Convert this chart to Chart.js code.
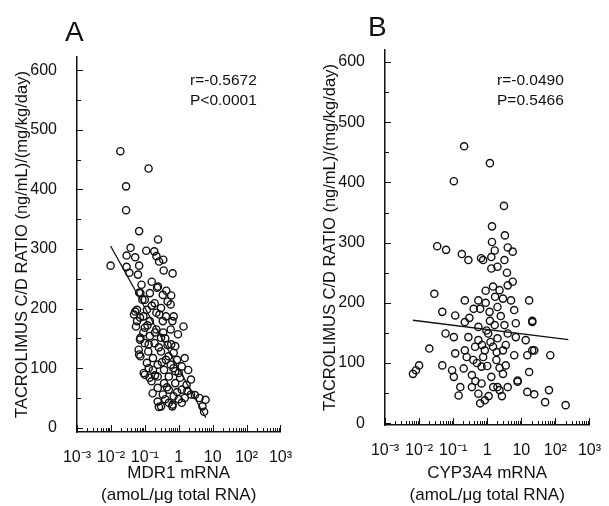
<!DOCTYPE html>
<html>
<head>
<meta charset="utf-8">
<script src="https://cdn.jsdelivr.net/npm/chart.js@4.4.1/dist/chart.umd.min.js"></script>
<style>
    html, body { margin: 0; padding: 0; background: #fff; }
    body { width: 609px; height: 506px; position: relative; overflow: hidden;
           font-family: "Liberation Sans", Arial, sans-serif; color: #111; }
    canvas { position: absolute; top: 0; }
    #chartA { left: 0; }
    #chartB { left: 300px; }
    .panel { position: absolute; font-size: 28px; line-height: 28px; }
    .stat { position: absolute; font-size: 15.5px; line-height: 19.5px; }
</style>
</head>
<body>
<canvas id="chartA" width="300" height="506"></canvas>
<canvas id="chartB" width="309" height="506"></canvas>
<div class="panel" style="left:65px; top:18px;">A</div>
<div class="panel" style="left:368px; top:13px;">B</div>
<div class="stat" style="left:190px; top:70px;">r=-0.5672<br>P&lt;0.0001</div>
<div class="stat" style="left:497px; top:70px;">r=-0.0490<br>P=0.5466</div>
<script>
(function () {
    "use strict";

    // ============================
    // Data
    // ============================
    const xTickValues = [0.001, 0.01, 0.1, 1, 10, 100, 1000];
    const xTickLabels = ["10⁻³", "10⁻²", "10⁻¹", "1", "10", "10²", "10³"];
    const yTickValues = [0, 100, 200, 300, 400, 500, 600];

    const yTitle = "TACROLIMUS C/D RATIO (ng/mL)/(mg/kg/day)";
    const xTitleA = ["MDR1 mRNA", "(amoL/μg total RNA)"];
    const xTitleB = ["CYP3A4 mRNA", "(amoL/μg total RNA)"];

    // Panel A: MDR1 mRNA vs C/D ratio
    const mdr1 = [
        0.019, 0.129, 0.028, 0.028, 0.068, 0.245, 0.038, 0.11, 0.19, 0.029,
        0.052, 0.22, 0.35, 0.0098, 0.029, 0.068, 0.263, 0.36, 0.66, 0.063,
        0.245, 0.035, 0.068, 0.23, 0.141, 0.074, 0.34, 0.10, 0.47, 0.195,
        0.059, 0.115, 0.30, 0.58, 0.048, 0.091, 0.219, 0.42, 0.71, 0.059,
        0.141, 0.34, 0.65, 1.38, 0.10, 0.219, 0.58, 0.074, 0.141, 0.30,
        0.10, 0.195, 0.47, 0.79, 0.066, 0.126, 0.30, 0.71, 1.5, 0.074,
        0.174, 0.42, 0.89, 0.115, 0.24, 0.58, 1.23, 0.174, 0.37, 0.79,
        1.9, 0.10, 0.24, 0.51, 1.1, 2.3, 0.158, 0.37, 0.79, 1.7,
        0.24, 0.51, 1.23, 2.3, 0.34, 0.71, 1.5, 4.1, 0.24, 0.51,
        1.23, 6.2, 5.0, 0.30, 0.65, 0.052, 0.072, 5.6, 0.66, 0.26,
        0.072, 0.068, 0.093, 0.138, 0.085, 0.16, 0.27, 0.12, 0.2, 0.4,
        0.09, 0.6, 0.26, 0.5, 0.13, 0.32, 0.7, 0.2, 1.0, 0.45,
        0.9, 0.17, 1.8, 3.0, 0.4, 1.0, 0.13, 0.35, 0.055, 0.16,
        0.43, 0.08, 0.6, 0.95
    ];
    const ratioA = [
        464, 435, 405, 365, 330, 316, 302, 297, 296, 289,
        286, 288, 282, 272, 270, 272, 279, 264, 259, 257,
        237, 260, 227, 235, 226, 226, 223, 215, 212, 209,
        198, 198, 201, 207, 190, 187, 193, 187, 187, 179,
        179, 179, 179, 170, 168, 165, 165, 151, 154, 151,
        142, 142, 139, 137, 131, 128, 128, 126, 117, 120,
        117, 114, 114, 109, 106, 106, 103, 97, 97, 95,
        97, 89, 86, 86, 84, 81, 78, 75, 75, 72,
        67, 64, 64, 56, 56, 53, 50, 50, 44, 42,
        42, 47, 36, 36, 36, 195, 185, 27, 39, 35,
        148, 123, 92, 84, 215, 205, 190, 172, 160, 150,
        160, 140, 135, 120, 100, 110, 100, 88, 92, 68,
        60, 58, 62, 55, 48, 48, 140, 160, 170, 245,
        230, 240, 222, 157
    ];
    const fitAx = [0.0098, 6.3];
    const fitAy = [305, 17];

    // Panel B: CYP3A4 mRNA vs C/D ratio
    const cyp3a4 = [
        0.21, 1.2, 0.105, 3.1, 1.38, 1.38, 3.3, 0.034, 0.062, 0.18,
        4.0, 0.66, 0.28, 0.76, 1.32, 1.66, 2.0, 5.6, 3.2, 1.32,
        0.028, 0.22, 0.55, 0.62, 1.17, 1.48, 2.3, 4.0, 5.6, 2.9,
        5.0, 2.0, 6.2, 17, 0.048, 0.115, 0.22, 0.55, 0.95, 1.66,
        3.2, 6.9, 21, 0.06, 0.105, 0.28, 0.55, 1.07, 2.0, 4.0,
        6.9, 13.5, 0.02, 0.115, 0.22, 0.44, 0.85, 1.48, 2.9, 6.2,
        15, 21, 71, 0.0081, 0.0066, 0.010, 0.048, 0.093, 0.204, 0.39,
        0.76, 1.86, 3.5, 0.105, 0.355, 0.68, 1.32, 2.9, 7.8, 17,
        0.162, 0.355, 0.68, 2.0, 4.0, 7.8, 0.145, 0.55, 0.85, 0.62,
        2.3, 15, 24, 65, 50, 200, 21, 24, 0.4, 0.9,
        1.7, 0.3, 1.2, 2.5, 0.7, 1.25, 3.5, 0.5, 1.0, 2.3,
        0.25, 1.5, 0.45, 1.1, 2.7, 0.9, 3.8, 1.9
    ];
    const ratioB = [
        460, 432, 402, 361, 327, 301, 312, 294, 288, 281,
        292, 274, 271, 271, 276, 287, 260, 285, 271, 257,
        215, 204, 204, 190, 185, 227, 221, 229, 235, 207,
        204, 193, 188, 204, 185, 179, 168, 160, 154, 163,
        163, 166, 168, 149, 143, 143, 138, 149, 141, 149,
        143, 138, 124, 116, 121, 127, 121, 127, 121, 113,
        113, 121, 113, 88, 82, 96, 96, 88, 91, 105,
        110, 105, 96, 77, 80, 94, 77, 82, 71, 85,
        60, 60, 66, 60, 60, 69, 46, 49, 38, 33,
        55, 52, 48, 55, 35, 30, 170, 121, 190, 200,
        210, 175, 170, 178, 130, 135, 130, 100, 95, 92,
        110, 60, 70, 45, 45, 220, 250, 118
    ];
    const fitBx = [0.0066, 240];
    const fitBy = [171, 139];

    // Helpers
    const toPoints = (xs, ys) => xs.map((x, i) => ({ x, y: ys[i] }));

    // Tick marks drawn inward from the axes, like the original figure
    const inwardTicks = {
        id: "inwardTicks",
        afterDraw(chart) {
            const ctx = chart.ctx;
            const { left, bottom } = chart.chartArea;
            const xs = chart.scales.x;
            const ys = chart.scales.y;
            ctx.save();
            ctx.strokeStyle = "#111";
            ctx.lineWidth = 1;
            ctx.beginPath();
            xs.ticks.forEach((t) => {
                const px = Math.round(xs.getPixelForValue(t.value)) + 0.5;
                const len = t.label ? 7 : 4;
                ctx.moveTo(px, bottom);
                ctx.lineTo(px, bottom - len);
            });
            ys.ticks.forEach((t) => {
                const py = Math.round(ys.getPixelForValue(t.value)) + 0.5;
                const len = t.label ? 6 : 4;
                ctx.moveTo(left, py);
                ctx.lineTo(left + len, py);
            });
            ctx.stroke();
            ctx.restore();
        },
    };

    // ============================
    // Panel builder
    // ============================
    function makePanel(canvasId, pts, fit, xTitle, box) {
        const canvas = document.getElementById(canvasId);
        return new Chart(canvas, {
            type: "scatter",
            data: {
                datasets: [
                    {
                        data: pts,
                        pointRadius: 3.6,
                        pointBorderWidth: 1.4,
                        borderColor: "#111",
                        backgroundColor: "rgba(255,255,255,0)",
                    },
                    {
                        data: fit,
                        showLine: true,
                        pointRadius: 0,
                        borderColor: "#111",
                        borderWidth: 1.3,
                    },
                ],
            },
            options: {
                responsive: false,
                animation: false,
                devicePixelRatio: 1,
                layout: { padding: { top: box.top, right: box.right, left: 0, bottom: 0 } },
                plugins: {
                    legend: { display: false },
                    tooltip: { enabled: false },
                },
                scales: {
                    x: {
                        type: "logarithmic",
                        min: 0.001,
                        max: 1000,
                        grid: { display: false },
                        border: { display: true, color: "#111", width: 1.5 },
                        afterBuildTicks: (scale) => {
                            const t = [];
                            xTickValues.forEach((d, i) => {
                                t.push({ value: d });
                                if (i < xTickValues.length - 1) {
                                    for (let k = 2; k <= 9; k++) t.push({ value: d * k });
                                }
                            });
                            scale.ticks = t;
                        },
                        afterFit: (scale) => { scale.height = box.xHeight; },
                        ticks: {
                            autoSkip: false,
                            maxRotation: 0,
                            padding: 8,
                            color: "#111",
                            font: { family: "Liberation Sans", size: 16 },
                            callback: (v) => {
                                const i = xTickValues.findIndex((d) => Math.abs(d - v) < d * 1e-6);
                                return i >= 0 ? xTickLabels[i] : "";
                            },
                        },
                        title: {
                            display: true,
                            text: xTitle,
                            color: "#111",
                            font: { family: "Liberation Sans", size: 17, lineHeight: 1.3 },
                            padding: { top: 0, bottom: 0 },
                        },
                    },
                    y: {
                        min: box.yMin,
                        max: box.yMax,
                        grid: { display: false },
                        border: { display: true, color: "#111", width: 1.5 },
                        afterBuildTicks: (scale) => {
                            const t = [];
                            for (let v = 0; v <= 600; v += 50) t.push({ value: v });
                            scale.ticks = t;
                        },
                        afterFit: (scale) => { scale.width = box.yWidth; },
                        ticks: {
                            padding: 12,
                            color: "#111",
                            font: { family: "Liberation Sans", size: 16 },
                            callback: (v) => (yTickValues.includes(v) ? String(v) : ""),
                        },
                        title: {
                            display: true,
                            text: yTitle,
                            color: "#111",
                            font: { family: "Liberation Sans", size: 16.5 },
                            padding: { top: box.yTitlePad, bottom: 0 },
                        },
                    },
                },
            },
            plugins: [inwardTicks],
        });
    }

    // ============================
    // INIT
    // ============================
    makePanel("chartA", toPoints(mdr1, ratioA), toPoints(fitAx, fitAy), xTitleA,
        { top: 57, right: 10, xHeight: 74, yWidth: 77, yMin: -7, yMax: 622, yTitlePad: 13 });
    makePanel("chartB", toPoints(cyp3a4, ratioB), toPoints(fitBx, fitBy), xTitleB,
        { top: 50, right: 16, xHeight: 81, yWidth: 85, yMin: -3, yMax: 620, yTitlePad: 21 });
})();
</script>
</body>
</html>
